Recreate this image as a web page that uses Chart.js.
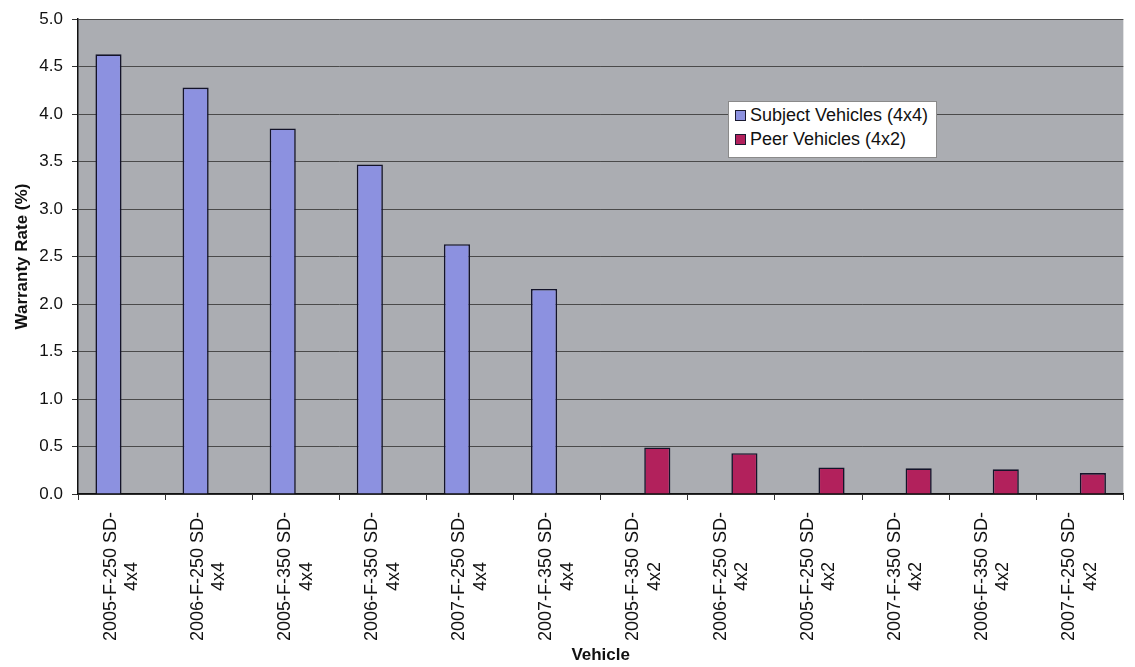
<!DOCTYPE html>
<html>
<head>
<meta charset="utf-8">
<script src="https://cdn.jsdelivr.net/npm/chart.js@4.4.1/dist/chart.umd.min.js"></script>
<style>
  html, body { margin: 0; padding: 0; background: #fff; }
  #wrap { position: relative; width: 1135px; height: 667px; }
  #legend {
    position: absolute; left: 728px; top: 101px; width: 207px; height: 54px;
    background: #fff; border: 1px solid #8a8a8a;
    font: 18px "Liberation Sans", Arial, sans-serif; color: #111;
    padding-top: 1px;
  }
  #legend .item { display: flex; align-items: center; height: 24px; padding-left: 6px; white-space: nowrap; }
  #legend .box { width: 9px; height: 9px; border: 1.5px solid #1a1a30; margin-right: 4px; }
</style>
</head>
<body>
<div id="wrap">
  <canvas id="warrantyChart" width="1135" height="667"></canvas>
  <div id="legend"></div>
</div>
<script>
// data
const vehicles = [
    ['2005-F-250 SD-', '4x4'], ['2006-F-250 SD-', '4x4'], ['2005-F-350 SD-', '4x4'],
    ['2006-F-350 SD-', '4x4'], ['2007-F-250 SD-', '4x4'], ['2007-F-350 SD-', '4x4'],
    ['2005-F-350 SD-', '4x2'], ['2006-F-250 SD-', '4x2'], ['2005-F-250 SD-', '4x2'],
    ['2007-F-350 SD-', '4x2'], ['2006-F-350 SD-', '4x2'], ['2007-F-250 SD-', '4x2']
];
const subjectRates = [4.63, 4.28, 3.85, 3.47, 2.63, 2.16, null, null, null, null, null, null];
const peerRates = [null, null, null, null, null, null, 0.49, 0.43, 0.28, 0.27, 0.26, 0.22];
const seriesNames = ['Subject Vehicles (4x4)', 'Peer Vehicles (4x2)'];
const yTicks = [0, 0.5, 1, 1.5, 2, 2.5, 3, 3.5, 4, 4.5, 5];

const FONT = '"Liberation Sans", Arial, sans-serif';
const colors = ['#8c91e0', '#b2215c'];

// rotated labels are right aligned, pad the short second line so it sits centred
const mctx = document.createElement('canvas').getContext('2d');
mctx.font = '18px ' + FONT;
const spaceW = mctx.measureText(' ').width;
const labels = vehicles.map(lines => {
    const w0 = mctx.measureText(lines[0]).width;
    const w1 = mctx.measureText(lines[1]).width;
    const n = Math.round((w0 - w1) / 2 / spaceW);
    return [lines[0], lines[1] + ' '.repeat(Math.max(n, 0))];
});

const ctx = document.getElementById('warrantyChart').getContext('2d');

new Chart(ctx, {
    type: 'bar',
    data: {
        labels: labels,
        datasets: [{
            label: seriesNames[0],
            data: subjectRates,
            backgroundColor: colors[0],
            borderColor: '#14142a',
            borderWidth: 1.6,
            borderSkipped: 'bottom'
        }, {
            label: seriesNames[1],
            data: peerRates,
            backgroundColor: colors[1],
            borderColor: '#14142a',
            borderWidth: 1.6,
            borderSkipped: 'bottom'
        }]
    },
    options: {
        responsive: false,
        animation: false,
        categoryPercentage: 0.6,
        barPercentage: 1.0,
        layout: { padding: { top: 12, right: 0, left: 0, bottom: 0 } },
        plugins: {
            legend: { display: false },
            tooltip: { enabled: false }
        },
        scales: {
            x: {
                afterFit: s => { s.height = 173; },
                grid: { drawOnChartArea: false, drawTicks: true, tickLength: 6, color: '#333', offset: true },
                border: { color: '#111', width: 1.5 },
                ticks: {
                    autoSkip: false, minRotation: 90, maxRotation: 90,
                    padding: 12, labelOffset: -10.8,
                    color: '#111', font: { family: FONT, size: 18 }
                },
                title: {
                    display: true, text: 'Vehicle', color: '#111',
                    font: { family: FONT, size: 17, weight: 'bold' },
                    padding: { top: 0, bottom: 1 }
                }
            },
            y: {
                min: 0, max: 5,
                afterFit: s => { s.width = 78; },
                afterBuildTicks: s => { s.ticks = yTicks.map(v => ({ value: v })); },
                grid: { color: '#4a4a4a', lineWidth: 1, tickLength: 6, tickColor: '#333' },
                border: { color: '#111', width: 1.5 },
                ticks: {
                    padding: 9, color: '#111',
                    font: { family: FONT, size: 17 },
                    callback: v => v.toFixed(1)
                },
                title: {
                    display: true, text: 'Warranty Rate (%)', color: '#111',
                    font: { family: FONT, size: 17, weight: 'bold' },
                    padding: { top: 12, bottom: 0 }
                }
            }
        }
    },
    plugins: [{
        id: 'plotBg',
        beforeDraw(chart) {
            const a = chart.chartArea;
            chart.ctx.save();
            chart.ctx.fillStyle = '#abadb2';
            chart.ctx.fillRect(a.left, a.top, a.right - a.left, a.bottom - a.top);
            chart.ctx.restore();
        }
    }]
});

// legend box inside the plot
const legend = document.getElementById('legend');
seriesNames.forEach((name, i) => {
    const row = document.createElement('div');
    row.className = 'item';
    row.innerHTML = `<span class="box" style="background:${colors[i]}"></span><span>${name}</span>`;
    legend.appendChild(row);
});
</script>
</body>
</html>
